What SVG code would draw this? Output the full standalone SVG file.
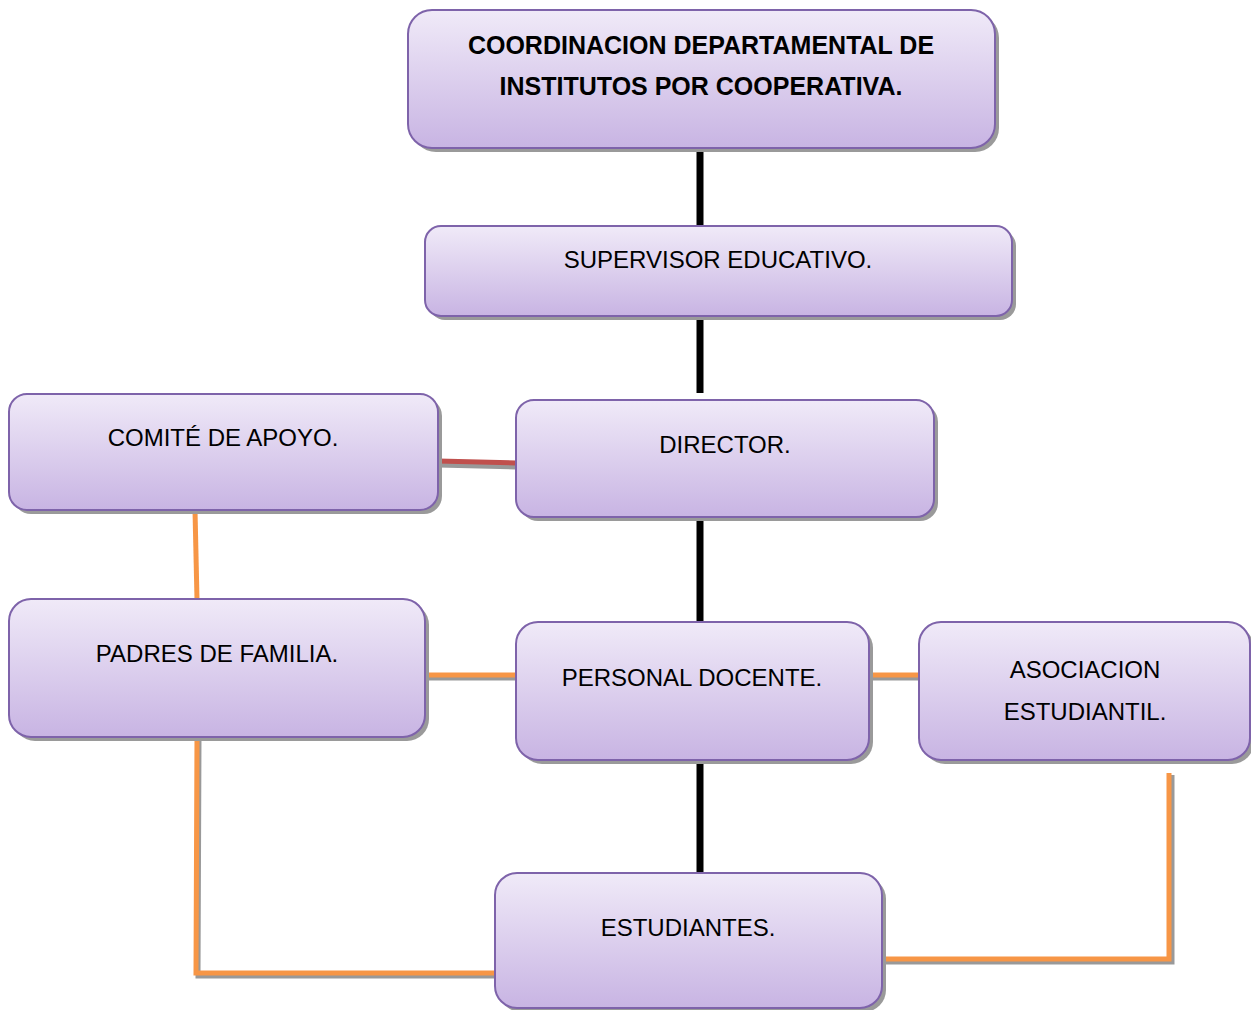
<svg xmlns="http://www.w3.org/2000/svg" width="1251" height="1010" viewBox="0 0 1251 1010">
<defs>
<linearGradient id="g" x1="0" y1="0" x2="0" y2="1">
<stop offset="0" stop-color="#f0eaf8"/>
<stop offset="1" stop-color="#c8b4e3"/>
</linearGradient>
</defs>
<style>
.box{fill:url(#g);stroke:#7e63aa;stroke-width:2}
.sh{fill:#9a9a9a}
text{font-family:"Liberation Sans",Arial,sans-serif;font-size:24px;fill:#000;text-anchor:middle}
.b{font-weight:bold;font-size:25px}
.k{stroke:#000;stroke-width:7;fill:none}
.o{stroke:#f79646;stroke-width:5;fill:none}
.os{stroke:#999;stroke-width:5;fill:none}
</style>
<rect width="1251" height="1010" fill="#fff"/>
<g id="connectors">
<line class="k" x1="700" y1="148" x2="700" y2="226"/>
<line class="k" x1="700" y1="316" x2="700" y2="393"/>
<line class="k" x1="700" y1="517" x2="700" y2="625"/>
<line class="k" x1="700" y1="760" x2="700" y2="873"/>
<line x1="438" y1="465" x2="516" y2="467" stroke="#999" stroke-width="5"/>
<line x1="438" y1="461" x2="516" y2="463" stroke="#c0504d" stroke-width="5"/>
<line class="o" x1="195" y1="510" x2="197" y2="600"/>
<polyline class="os" points="427,678 516,678"/>
<line class="o" x1="425" y1="675" x2="516" y2="675"/>
<polyline class="os" points="869,678 919,678"/>
<line class="o" x1="869" y1="675" x2="919" y2="675"/>
<polyline class="os" points="199,737 198,976 495,976"/>
<polyline class="o" points="197,737 196,973 495,973"/>
<polyline class="os" points="882,962 1172,962 1172,775"/>
<polyline class="o" points="882,959 1169,959 1169,773"/>
</g>
<g id="n1">
<rect class="sh" x="412" y="14" width="587" height="138" rx="24"/>
<rect class="box" x="408" y="10" width="587" height="138" rx="24"/>
<text class="b" x="701" y="54">COORDINACION DEPARTAMENTAL DE</text>
<text class="b" x="701" y="95">INSTITUTOS POR COOPERATIVA.</text>
</g>
<g id="n2">
<rect class="sh" x="429" y="230" width="587" height="90" rx="16"/>
<rect class="box" x="425" y="226" width="587" height="90" rx="16"/>
<text x="718" y="268">SUPERVISOR EDUCATIVO.</text>
</g>
<g id="n3">
<rect class="sh" x="13" y="398" width="429" height="116" rx="18"/>
<rect class="box" x="9" y="394" width="429" height="116" rx="18"/>
<text x="223" y="446">COMITÉ DE APOYO.</text>
</g>
<g id="n4">
<rect class="sh" x="520" y="404" width="418" height="117" rx="18"/>
<rect class="box" x="516" y="400" width="418" height="117" rx="18"/>
<text x="725" y="453">DIRECTOR.</text>
</g>
<g id="n5">
<rect class="sh" x="13" y="603" width="416" height="138" rx="22"/>
<rect class="box" x="9" y="599" width="416" height="138" rx="22"/>
<text x="217" y="662">PADRES DE FAMILIA.</text>
</g>
<g id="n6">
<rect class="sh" x="520" y="626" width="353" height="138" rx="22"/>
<rect class="box" x="516" y="622" width="353" height="138" rx="22"/>
<text x="692" y="686">PERSONAL DOCENTE.</text>
</g>
<g id="n7">
<rect class="sh" x="923" y="626" width="331" height="138" rx="22"/>
<rect class="box" x="919" y="622" width="331" height="138" rx="22"/>
<text x="1085" y="678">ASOCIACION</text>
<text x="1085" y="720">ESTUDIANTIL.</text>
</g>
<g id="n8">
<rect class="sh" x="499" y="877" width="387" height="135" rx="22"/>
<rect class="box" x="495" y="873" width="387" height="135" rx="22"/>
<text x="688" y="936">ESTUDIANTES.</text>
</g>
</svg>
